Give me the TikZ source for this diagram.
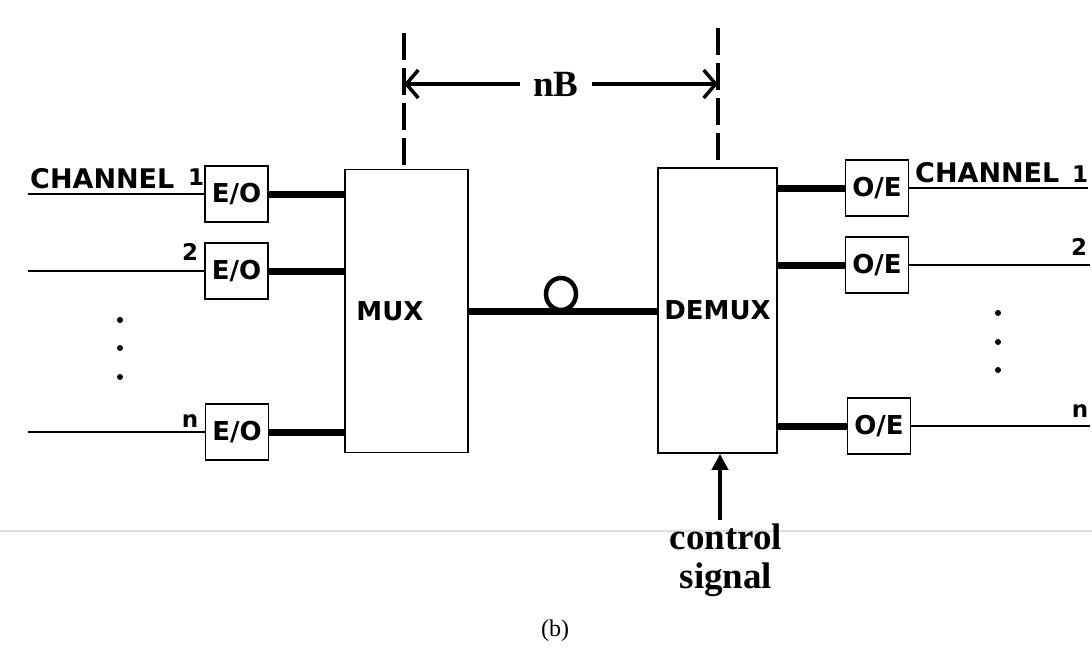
\documentclass[tikz,border=0pt]{standalone}
\usepackage{fontspec}
\usepackage{graphicx}
\setmainfont{Liberation Serif}
\newfontfamily\diagsans{DejaVu Sans}
\usetikzlibrary{arrows.meta}
\begin{document}
\begin{tikzpicture}[x=1pt,y=-1pt,
  sigline/.style={line width=2pt},
  optline/.style={line width=7pt},
  blockbox/.style={draw, line width=1.8pt, inner sep=0pt, font=\diagsans\bfseries\fontsize{26}{26}\selectfont},
  convbox/.style={draw, line width=1.8pt, minimum width=63pt, minimum height=56pt, inner sep=0pt, font=\diagsans\bfseries\fontsize{26}{26}\selectfont},
  sanslab/.style={font=\diagsans\bfseries\fontsize{27}{27}\selectfont, inner sep=0pt},
  numlab/.style={font=\diagsans\bfseries\fontsize{23}{23}\selectfont, inner sep=0pt, anchor=base},
  dimline/.style={line width=4pt, dash pattern=on 27pt off 8pt},
  dimarrow/.style={line width=3.5pt, -{Straight Barb[length=12pt,width=28pt]}},
  seriflab/.style={font=\bfseries\fontsize{37}{37}\selectfont, inner sep=0pt},
  dotmark/.style={fill=black, draw=none}
]
\useasboundingbox (0,0) rectangle (1092,665);

% separator line
\draw[gray!25, line width=1.5pt] (0,531) -- (1092,531);

% converter boxes, left
\node[convbox] (eo1) at (236.5,194) {E/O};
\node[convbox] (eo2) at (236.5,271) {E/O};
\node[convbox] (eon) at (237,432) {E/O};

% MUX / DEMUX
\node[blockbox, minimum width=123pt, minimum height=283pt] (mux) at (406.5,311) {};
\node[font=\diagsans\bfseries\fontsize{26}{26}\selectfont, inner sep=0pt] (muxt) at (390,311) {MUX};
\node[blockbox, minimum width=119pt, minimum height=285pt] (demux) at (717.5,310.5) {DEMUX};

% converter boxes, right
\node[convbox] (oe1) at (877,188) {O/E};
\node[convbox] (oe2) at (877,265) {O/E};
\node[convbox] (oen) at (879,426) {O/E};

% input electrical lines
\coordinate (in1) at (28,194);
\coordinate (in2) at (28,271);
\coordinate (inn) at (28,432);
\draw[sigline] (in1) -- (eo1.west);
\draw[sigline] (in2) -- (eo2.west);
\draw[sigline] (inn) -- (eon.west);

% output electrical lines
\coordinate (out1) at (1088,188);
\coordinate (out2) at (1090,265);
\coordinate (outn) at (1090,426);
\draw[sigline] (oe1.east) -- (out1);
\draw[sigline] (oe2.east) -- (out2);
\draw[sigline] (oen.east) -- (outn);

% optical lines
\draw[optline] (eo1.east) -- (eo1.east -| mux.west);
\draw[optline] (eo2.east) -- (eo2.east -| mux.west);
\draw[optline] (eon.east) -- (eon.east -| mux.west);
\draw[optline] (oe1.west -| demux.east) -- (oe1.west);
\draw[optline] (oe2.west -| demux.east) -- (oe2.west);
\draw[optline] (oen.west -| demux.east) -- (oen.west);

% fiber with loop
\draw[optline] (mux.east) -- (mux.east -| demux.west);
\draw[line width=4.5pt] (561,294) ellipse [x radius=15, y radius=16];

% labels left
\node[sanslab, anchor=base west] (chl) at (30,188) {CHANNEL};
\node[numlab] (l1) at (196,185) {1};
\node[numlab] (l2) at (190,260) {2};
\node[numlab] (ln) at (190,427) {n};

% labels right
\node[sanslab, anchor=base west] (chr) at (915,182) {CHANNEL};
\node[numlab] (r1) at (1080,182) {1};
\node[numlab] (r2) at (1079,255) {2};
\node[numlab] (rn) at (1080,417) {n};

% dots
\foreach \yy in {320,348,377} \fill[dotmark] (120,\yy) circle (3);
\foreach \yy in {313,342,370} \fill[dotmark] (998,\yy) circle (3);

% dimension lines
\coordinate (dl) at (404,33);
\coordinate (dr) at (718,28);
\draw[dimline] (dl) -- (dl |- mux.north);
\draw[dimline] (dr) -- (dr |- demux.north);
\node[seriflab, inner xsep=13pt] (nb) at (556,84) {nB};
\draw[dimarrow] (nb.west) -- (nb.west -| dl);
\draw[dimarrow] (nb.east) -- (nb.east -| dr);

% control signal
\coordinate (cs) at (720,520);
\draw[line width=4pt, -{Triangle[length=16pt,width=16pt]}] (cs) -- (cs |- demux.south);
\node[seriflab, anchor=base] (ctl1) at (726,549) {control};
\node[seriflab, anchor=base] (ctl2) at (726,588) {signal};

% caption
\node[font=\fontsize{24}{24}\selectfont, inner sep=0pt, anchor=base] (cap) at (555,636) {(b)};
\end{tikzpicture}
\end{document}
